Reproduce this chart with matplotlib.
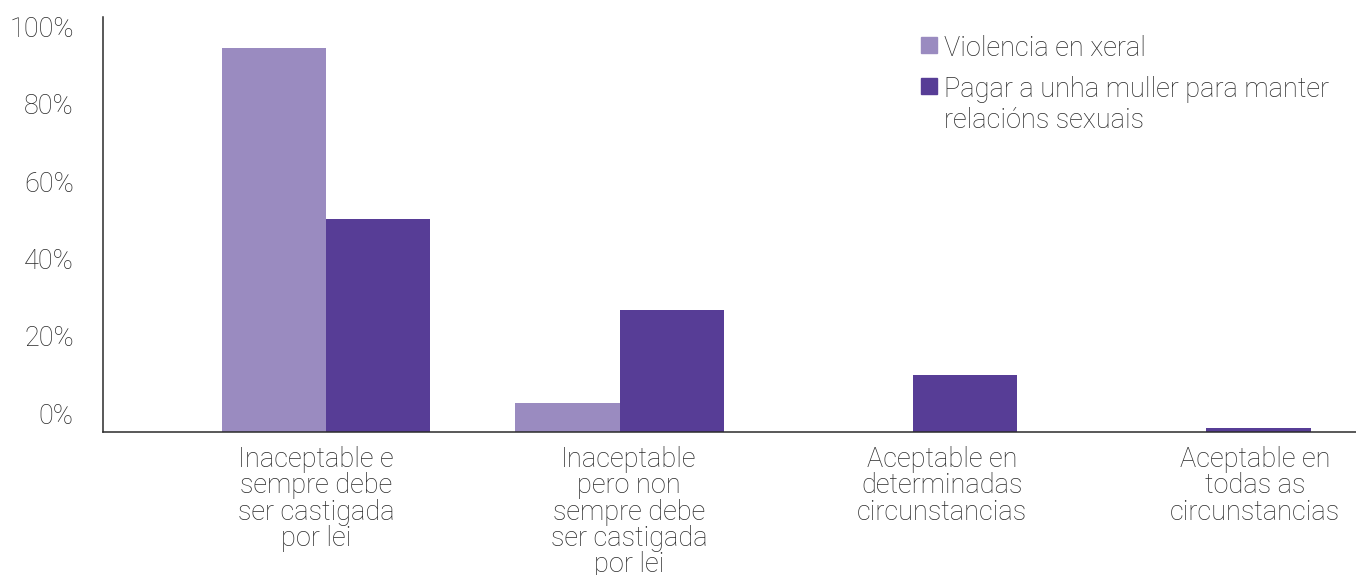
import matplotlib
matplotlib.use("Agg")
import matplotlib.pyplot as plt
import matplotlib.transforms as mtransforms
from matplotlib.patches import Rectangle
import numpy as np

categories = [
    "Inaceptable e\nsempre debe\nser castigada\npor lei",
    "Inaceptable\npero non\nsempre debe\nser castigada\npor lei",
    "Aceptable en\ndeterminadas\ncircunstancias",
    "Aceptable en\ntodas as\ncircunstancias",
]
series_names = ["Violencia en xeral",
                "Pagar a unha muller para manter\nrelacións sexuais"]
violencia = [99.5, 7.5, 0.0, 0.0]
pagar = [55.0, 31.6, 14.7, 1.0]
ytick_values = [0, 20, 40, 60, 80, 100]
ytick_labels = ["0%", "20%", "40%", "60%", "80%", "100%"]

c_light = "#9A8BC0"
c_dark = "#573D96"
txt = "#2a2a2a"
font = ["Roboto", "DejaVu Sans"]
plt.rcParams["font.family"] = font
plt.rcParams["font.weight"] = "light"
FS = 19.5

W, H = 1356, 575
fig = plt.figure(figsize=(W / 100, H / 100), dpi=100)
ax = fig.add_axes([103 / W, (H - 432) / H, 1 - 103 / W, (432 - 17) / H])

x = np.arange(len(categories))
w = 0.355
ax.bar(x - w / 2, violencia, width=w, color=c_light, align="center")
ax.bar(x + w / 2, pagar, width=w, color=c_dark, align="center")

# x scale: 1 unit = 293.5 px, first group centre at pixel 326
ax.set_xlim((103 - 326) / 293.5, (1356 - 326) / 293.5)
ax.set_ylim(0, 107.4)

for s in ["top", "right"]:
    ax.spines[s].set_visible(False)
for s in ["left", "bottom"]:
    ax.spines[s].set_color("#2b2b2b")
    ax.spines[s].set_linewidth(1.1)

ax.set_yticks(ytick_values)
ax.set_yticklabels(ytick_labels, fontsize=FS, color=txt, fontweight="light")
ax.tick_params(axis="y", length=0, pad=21)
off = mtransforms.ScaledTranslation(0, 19 / 100, fig.dpi_scale_trans)
for lab in ax.get_yticklabels():
    lab.set_transform(lab.get_transform() + off)

label_pos = (316 - 326) / 293.5 + x * 313 / 293.5
ax.set_xticks(label_pos)
ax.set_xticklabels(categories, fontsize=FS, color=txt, fontweight="light",
                   linespacing=0.97, ha="center", va="top")
ax.tick_params(axis="x", length=0, pad=10)

# legend (manual)
entries = [(series_names[0], c_light, 37, 56), (series_names[1], c_dark, 78, 97)]
for name, col, sq_top, base in entries:
    fig.patches.append(Rectangle((921 / W, 1 - (sq_top + 16) / H), 16 / W, 16 / H,
                                 transform=fig.transFigure, color=col))
    first, *rest = name.split("\n")
    fig.text(944 / W, 1 - base / H, first, fontsize=FS, color=txt,
             fontweight="light", va="baseline", ha="left")
    for k, line in enumerate(rest, start=1):
        fig.text(944 / W, 1 - (base + 31 * k) / H, line, fontsize=FS, color=txt,
                 fontweight="light", va="baseline", ha="left")

fig.savefig("out.png", dpi=100)
